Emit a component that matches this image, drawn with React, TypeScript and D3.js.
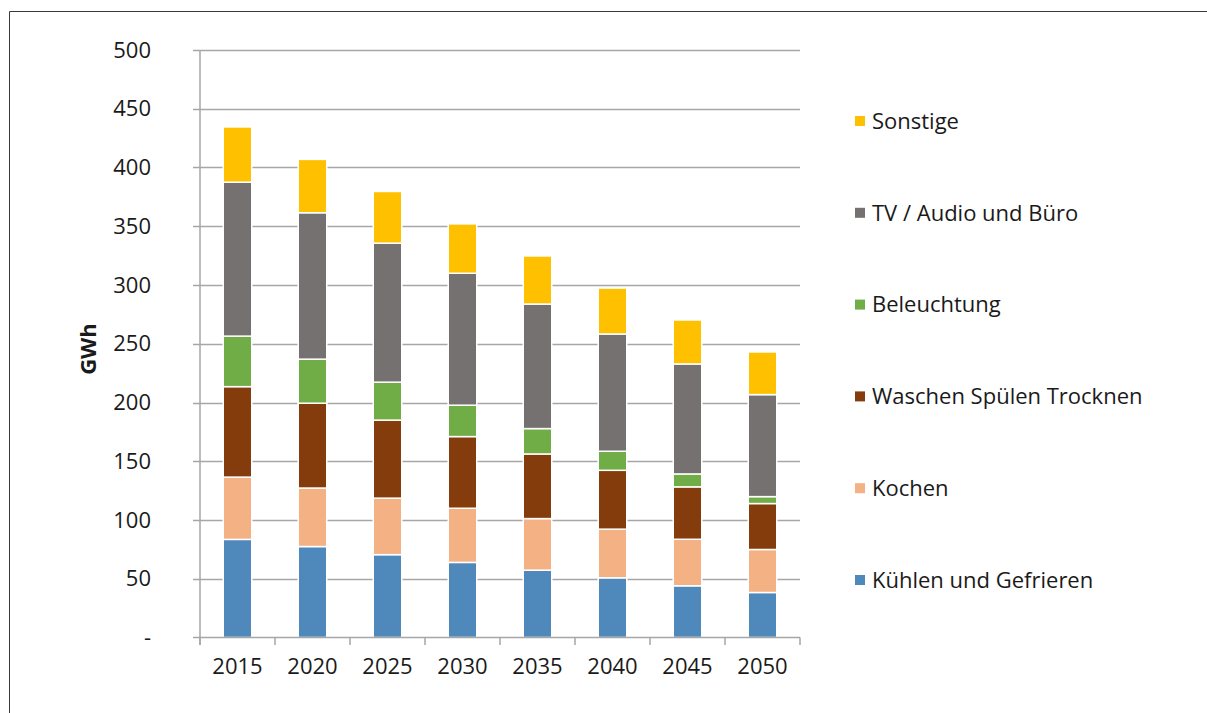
import { useEffect, useRef } from "react";
import * as d3 from "d3";

const years = ["2015", "2020", "2025", "2030", "2035", "2040", "2045", "2050"];
const seriesNames = [
  "Kühlen und Gefrieren",
  "Kochen",
  "Waschen Spülen Trocknen",
  "Beleuchtung",
  "TV / Audio und Büro",
  "Sonstige",
];
const kuehlen = [83.5, 77.4, 70.5, 63.9, 57.3, 50.8, 44.0, 38.3];
const kochen = [53.0, 49.8, 48.1, 46.1, 43.9, 41.4, 39.6, 36.6];
const waschen = [77.0, 72.2, 66.4, 61.0, 55.0, 50.1, 44.6, 39.1];
const beleuchtung = [43.0, 37.5, 32.3, 26.7, 21.6, 16.2, 11.0, 5.9];
const tvAudio = [131.0, 124.6, 118.3, 112.3, 106.0, 99.8, 93.6, 86.8];
const sonstige = [47.0, 45.4, 44.0, 42.0, 40.9, 39.1, 37.4, 36.3];
const colors = ["#4f88bb", "#f4b183", "#843c0c", "#70ad47", "#767171", "#ffc000"];
const yTicks = [0, 50, 100, 150, 200, 250, 300, 350, 400, 450, 500];

export default function App() {
  const svgRef = useRef<SVGSVGElement>(null);

  useEffect(() => {
    if (!svgRef.current) return;
    const svg = d3.select(svgRef.current);
    svg.selectAll("*").remove();

    const W = 1207;
    const H = 713;
    const font = "'Open Sans', 'Noto Sans', sans-serif";

    // frame
    svg
      .append("path")
      .attr("d", `M9.5,${H} V11.5 H${W}`)
      .attr("fill", "none")
      .attr("stroke", "#3a3a3a")
      .attr("stroke-width", 1);

    const x0 = 200;
    const x1 = 800;
    const yScale = d3.scaleLinear().domain([0, 500]).range([637.5, 50]);
    const xScale = d3.scaleBand().domain(years).range([x0, x1]).paddingInner(0.62).paddingOuter(0.31);

    const rows = years.map((y, i) => ({
      year: y,
      s0: kuehlen[i],
      s1: kochen[i],
      s2: waschen[i],
      s3: beleuchtung[i],
      s4: tvAudio[i],
      s5: sonstige[i],
    }));
    const stack = d3.stack<any>().keys(["s0", "s1", "s2", "s3", "s4", "s5"]);
    const layers = stack(rows);

    // gridlines
    svg
      .append("g")
      .selectAll("line")
      .data(yTicks.filter((t) => t > 0))
      .enter()
      .append("line")
      .attr("x1", x0 - 7)
      .attr("x2", x1)
      .attr("y1", (d) => Math.round(yScale(d)) + 0.5)
      .attr("y2", (d) => Math.round(yScale(d)) + 0.5)
      .attr("stroke", "#a6a6a6")
      .attr("stroke-width", 1.5);

    // y labels
    svg
      .append("g")
      .selectAll("text")
      .data(yTicks)
      .enter()
      .append("text")
      .attr("x", 151)
      .attr("y", (d) => yScale(d))
      .attr("dy", "0.35em")
      .attr("text-anchor", "end")
      .style("font-family", font)
      .style("font-size", "22px")
      .attr("fill", "#1a1a1a")
      .text((d) => (d === 0 ? "-" : String(d)));

    // bars
    svg
      .append("g")
      .selectAll("g")
      .data(layers)
      .enter()
      .append("g")
      .attr("fill", (_d, i) => colors[i])
      .selectAll("rect")
      .data((d) => d)
      .enter()
      .append("rect")
      .attr("x", (d: any) => xScale(d.data.year)!)
      .attr("width", xScale.bandwidth())
      .attr("y", (d) => yScale(d[1]))
      .attr("height", (d) => yScale(d[0]) - yScale(d[1]))
      .attr("stroke", "#ffffff")
      .attr("stroke-width", 1.5);

    // axes lines
    svg
      .append("line")
      .attr("x1", x0 - 7)
      .attr("x2", x1)
      .attr("y1", 637.5)
      .attr("y2", 637.5)
      .attr("stroke", "#a6a6a6")
      .attr("stroke-width", 1.5);
    svg
      .append("line")
      .attr("x1", x0)
      .attr("x2", x0)
      .attr("y1", yScale(500))
      .attr("y2", 645)
      .attr("stroke", "#a6a6a6")
      .attr("stroke-width", 1.5);

    const step = (x1 - x0) / years.length;
    svg
      .append("g")
      .selectAll("line")
      .data(d3.range(years.length + 1))
      .enter()
      .append("line")
      .attr("x1", (d) => x0 + d * step)
      .attr("x2", (d) => x0 + d * step)
      .attr("y1", 637.5)
      .attr("y2", 645)
      .attr("stroke", "#a6a6a6")
      .attr("stroke-width", 1.5);

    // x labels
    svg
      .append("g")
      .selectAll("text")
      .data(years)
      .enter()
      .append("text")
      .attr("x", (d) => xScale(d)! + xScale.bandwidth() / 2)
      .attr("y", 666)
      .attr("dy", "0.35em")
      .attr("text-anchor", "middle")
      .style("font-family", font)
      .style("font-size", "22px")
      .attr("fill", "#1a1a1a")
      .text((d) => d);

    // y axis title
    svg
      .append("text")
      .attr("transform", `translate(88,349) rotate(-90)`)
      .attr("text-anchor", "middle")
      .attr("dy", "0.35em")
      .style("font-family", font)
      .style("font-size", "22px")
      .style("font-weight", "bold")
      .attr("fill", "#1a1a1a")
      .text("GWh");

    // legend (top to bottom: reversed series)
    const legendItems = seriesNames.map((n, i) => ({ name: n, color: colors[i] })).reverse();
    const lg = svg
      .append("g")
      .selectAll("g")
      .data(legendItems)
      .enter()
      .append("g")
      .attr("transform", (_d, i) => `translate(855,${121 + i * 91.8})`);
    lg.append("rect")
      .attr("x", 0)
      .attr("y", -5)
      .attr("width", 10)
      .attr("height", 10)
      .attr("fill", (d) => d.color);
    lg.append("text")
      .attr("x", 17)
      .attr("y", 0)
      .attr("dy", "0.35em")
      .style("font-family", font)
      .style("font-size", "22px")
      .attr("fill", "#1a1a1a")
      .text((d) => d.name);
  }, []);

  return (
    <div style={{ position: "absolute", left: 0, top: 0 }}>
      <svg ref={svgRef} width={1207} height={713} style={{ display: "block", background: "#fff" }}></svg>
    </div>
  );
}
